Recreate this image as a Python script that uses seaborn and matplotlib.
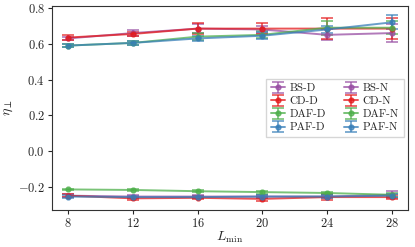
import seaborn as sns
import matplotlib.pyplot as plt
import pandas as pd

lmin = [8, 12, 16, 20, 24, 28]
methods = ["BS", "CD", "DAF", "PAF"]

# eta_perp, "-D" series
bs_d = [0.630, 0.660, 0.685, 0.680, 0.650, 0.660]
cd_d = [0.635, 0.655, 0.685, 0.685, 0.685, 0.685]
daf_d = [0.590, 0.605, 0.640, 0.650, 0.690, 0.690]
paf_d = [0.590, 0.605, 0.630, 0.645, 0.680, 0.720]
bs_d_err = [0.010, 0.015, 0.025, 0.020, 0.030, 0.050]
cd_d_err = [0.012, 0.012, 0.030, 0.030, 0.060, 0.060]
daf_d_err = [0.010, 0.010, 0.020, 0.020, 0.040, 0.035]
paf_d_err = [0.010, 0.010, 0.015, 0.020, 0.020, 0.040]

# "-N" series
bs_n = [-0.250, -0.255, -0.255, -0.255, -0.255, -0.245]
cd_n = [-0.250, -0.265, -0.262, -0.268, -0.258, -0.258]
daf_n = [-0.215, -0.218, -0.225, -0.230, -0.235, -0.245]
paf_n = [-0.255, -0.258, -0.258, -0.255, -0.255, -0.250]
bs_n_err = [0.008, 0.008, 0.008, 0.008, 0.010, 0.020]
cd_n_err = [0.008, 0.008, 0.008, 0.010, 0.015, 0.012]
daf_n_err = [0.005, 0.005, 0.006, 0.008, 0.008, 0.010]
paf_n_err = [0.006, 0.006, 0.006, 0.008, 0.008, 0.010]

sns.set_style("ticks")
plt.rcParams["font.family"] = ["cmr10", "DejaVu Serif"]
plt.rcParams["mathtext.fontset"] = "cm"
plt.rcParams["axes.formatter.use_mathtext"] = True
plt.rcParams["axes.unicode_minus"] = True

colors = sns.color_palette("Set1")
cmap = {"BS": colors[3], "CD": colors[0], "DAF": colors[2], "PAF": colors[1]}

d_vals = {"BS": (bs_d, bs_d_err), "CD": (cd_d, cd_d_err),
          "DAF": (daf_d, daf_d_err), "PAF": (paf_d, paf_d_err)}
n_vals = {"BS": (bs_n, bs_n_err), "CD": (cd_n, cd_n_err),
          "DAF": (daf_n, daf_n_err), "PAF": (paf_n, paf_n_err)}

fig, ax = plt.subplots(figsize=(4.15, 2.47), dpi=100)

handles = {}
for suffix, vals in (("D", d_vals), ("N", n_vals)):
    for m in methods:
        y, e = vals[m]
        h = ax.errorbar(lmin, y, yerr=e, color=cmap[m], marker="o", ms=3.5,
                        lw=1.4, capsize=4, capthick=1.2, elinewidth=1.2,
                        alpha=0.75, label=f"{m}-{suffix}")
        handles[f"{m}-{suffix}"] = h

order = ["BS-D", "CD-D", "DAF-D", "PAF-D", "BS-N", "CD-N", "DAF-N", "PAF-N"]
ax.legend([handles[k] for k in order], order, loc="center right", ncol=2,
          fontsize=8, frameon=True, fancybox=False, handlelength=1.3,
          columnspacing=1.6, handletextpad=0.4, labelspacing=0.3,
          borderaxespad=0.4)

ax.set_xticks(lmin)
ax.set_yticks([-0.2, 0.0, 0.2, 0.4, 0.6, 0.8])
ax.tick_params(labelsize=9, length=3, pad=2)
ax.set_xlabel(r"$L_{\min}$", fontsize=10, labelpad=0)
ax.set_ylabel(r"$\eta_{\perp}$", fontsize=10, labelpad=2)
for s in ax.spines.values():
    s.set_color("#333333")

fig.subplots_adjust(left=0.125, right=0.983, top=0.976, bottom=0.15)
fig.savefig("out.png", dpi=100)
